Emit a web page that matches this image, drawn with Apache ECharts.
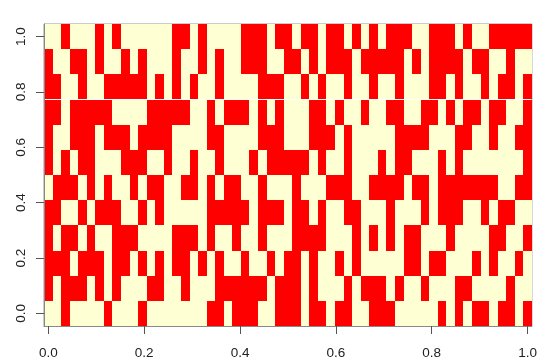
<!DOCTYPE html>
<html>
<head>
<meta charset="utf-8">
<style>
html, body { margin: 0; padding: 0; background: #fff; }
#chart { width: 540px; height: 364px; }
</style>
<script src="https://cdn.jsdelivr.net/npm/echarts@6/dist/echarts.min.js"></script>
</head>
<body>
<div id="chart"></div>
<script>
var columnCount = 57;
var rowCount = 12;
var tickValues = [0, 0.2, 0.4, 0.6, 0.8, 1];

// red columns of each row, row00 is the bottom one (y = 0)
var row00 = [2,7,11,19,20,22,23,24,27,28,29,31,32,34,35,38,39,40,46,48,50,51,53,54,56];
var row01 = [0,2,3,4,6,8,12,13,16,20,21,22,23,24,25,27,28,29,31,35,37,38,39,41,44,48,49,54];
var row02 = [0,1,2,4,5,6,8,9,11,13,15,16,18,20,23,26,28,29,31,34,36,42,43,45,46,50,52,55];
var row03 = [0,2,3,5,8,9,10,15,16,17,19,22,25,29,30,31,32,36,38,40,42,43,47,52,53,56];
var row04 = [0,1,4,6,7,8,11,13,19,20,21,22,23,25,26,27,29,30,32,35,36,40,44,46,47,48,51,53,54];
var row05 = [1,2,3,5,7,10,12,13,16,17,19,21,22,25,29,33,34,35,38,39,40,41,43,44,46,47,48,49,50,51,52,55,56];
var row06 = [0,2,4,5,9,10,11,14,17,20,24,26,27,28,29,30,32,35,39,41,42,46,48,56];
var row07 = [0,3,4,5,7,8,9,11,12,13,14,19,20,25,26,27,31,32,33,35,41,42,43,44,48,49,52,55,56];
var row08 = [0,1,3,4,5,6,7,12,13,14,15,16,19,21,22,23,25,27,31,32,34,37,40,41,44,45,47,49,50,52,53,56];
var row09 = [0,1,4,7,8,9,10,11,13,15,17,20,25,26,27,30,32,35,38,41,45,46,48,51,53,54,56];
var row10 = [0,3,4,6,9,11,15,18,20,23,24,25,28,29,31,33,34,35,37,38,39,40,41,43,45,46,47,48,50,51,54];
var row11 = [2,6,8,15,16,18,23,24,25,27,28,30,31,33,34,36,38,40,41,42,45,46,47,49,52,53,54,55,56];

var redRows = [row00, row01, row02, row03, row04, row05, row06, row07, row08, row09, row10, row11];

var cells = [];
for (var r = 0; r < rowCount; r++) {
    for (var c = 0; c < columnCount; c++) {
        cells.push([c / (columnCount - 1), r / (rowCount - 1), redRows[r].indexOf(c) >= 0 ? 1 : 0]);
    }
}

var dx = 1 / (columnCount - 1);
var dy = 1 / (rowCount - 1);

function renderCell(params, api) {
    var p0 = api.coord([api.value(0) - dx / 2, api.value(1) + dy / 2]);
    var p1 = api.coord([api.value(0) + dx / 2, api.value(1) - dy / 2]);
    var x0 = Math.round(p0[0]), y0 = Math.round(p0[1]);
    var x1 = Math.round(p1[0]), y1 = Math.round(p1[1]);
    return {
        type: 'rect',
        shape: {x: x0, y: y0, width: x1 - x0, height: y1 - y0},
        style: {fill: api.value(2) ? '#ff0000' : '#ffffd4'}
    };
}

var labelStyle = {
    show: true,
    customValues: tickValues,
    color: '#222',
    fontFamily: 'Liberation Sans',
    fontSize: 13.5,
    formatter: function (v) { return v.toFixed(1); }
};

var myChart = echarts.init(document.getElementById('chart'), null, {renderer: 'canvas'});
var option = {
    animation: false,
    grid: {
        show: true,
        left: 44,
        top: 24,
        width: 488,
        height: 302,
        borderColor: '#999',
        borderWidth: 1,
        backgroundColor: 'transparent'
    },
    xAxis: {
        type: 'value',
        min: -dx / 2,
        max: 1 + dx / 2,
        z: 5,
        splitLine: {show: false},
        axisLine: {show: true, onZero: false, lineStyle: {color: '#888', width: 1}},
        axisTick: {show: true, customValues: tickValues, length: 8, lineStyle: {color: '#555'}},
        axisLabel: Object.assign({}, labelStyle, {margin: 20})
    },
    yAxis: {
        type: 'value',
        min: -dy / 2,
        max: 1 + dy / 2,
        z: 5,
        splitLine: {show: false},
        axisLine: {show: true, onZero: false, lineStyle: {color: '#888', width: 1}},
        axisTick: {show: true, customValues: tickValues, length: 8, lineStyle: {color: '#555'}},
        axisLabel: Object.assign({}, labelStyle, {rotate: 90, margin: 16})
    },
    series: [{
        type: 'custom',
        coordinateSystem: 'cartesian2d',
        renderItem: renderCell,
        encode: {x: 0, y: 1},
        data: cells
    }]
};
myChart.setOption(option);
</script>
</body>
</html>
